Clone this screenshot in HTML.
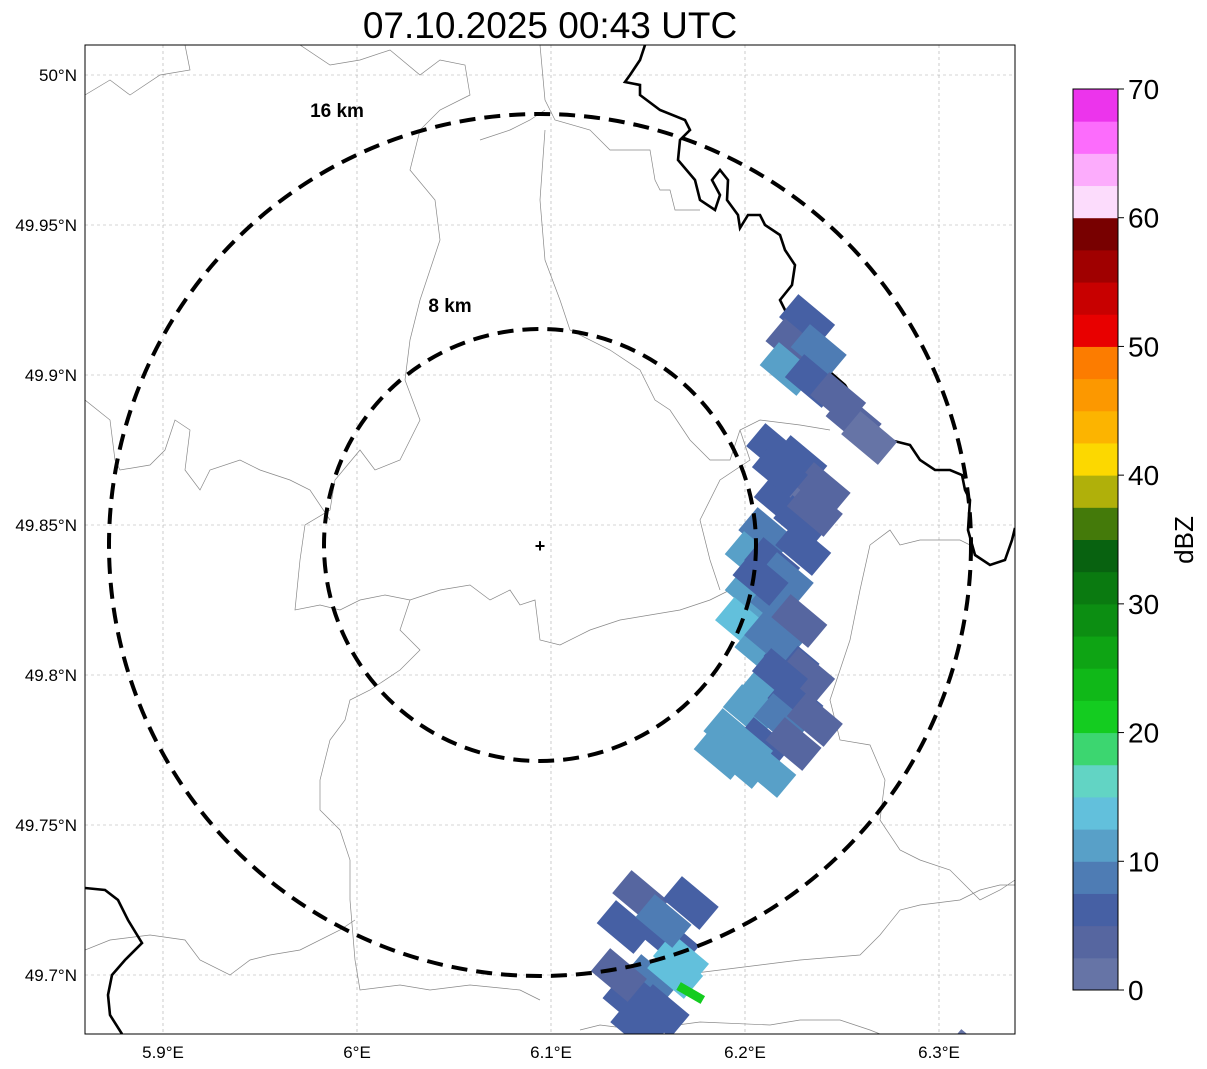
<!DOCTYPE html>
<html><head><meta charset="utf-8"><style>
html,body{margin:0;padding:0;background:#fff;}
svg{display:block;font-family:"Liberation Sans",sans-serif;}
</style></head><body>
<svg id="chart" width="1207" height="1069" xmlns="http://www.w3.org/2000/svg">
<text x="550" y="38" font-size="37" text-anchor="middle">07.10.2025 00:43 UTC</text>
<defs><clipPath id="clip"><rect x="85" y="45" width="930" height="989"/></clipPath></defs>
<g id="grid"></g>
<g id="borders" clip-path="url(#clip)">
<path fill="none" stroke="#888" stroke-width="0.7" d="M85,95 L110,80 L130,95 L160,75 L190,70 L185,45 M300,45 L330,65 L360,60 L390,50 L420,75 L440,60 L465,65 L470,95 L440,110 L420,130 L410,170 L435,200 L440,240 L430,270 L420,300 L410,340 L405,380 L420,420 L400,460 L375,470 L360,450 L335,480 L330,510 L305,525 L300,560 L295,610 L320,605 L340,610 L360,600 L385,595 L410,600 L440,590 L470,585 L490,600 L510,590 L520,605 L535,600 L540,640 L560,645 L590,630 L620,620 L650,615 L680,610 L710,600 L730,590"/>
<path fill="none" stroke="#888" stroke-width="0.7" d="M85,400 L110,420 L115,460 L120,470 L150,465 L165,450 L175,420 L190,430 L185,470 L200,490 L210,470 L240,460 L260,470 L290,480 L310,490 L330,520 M410,600 L400,630 L420,650 L400,670 L370,690 L350,700 L345,720 L330,740 L320,780 L320,810 L340,830 L350,860 L350,900 L355,960 L360,990 L400,985 L430,990 L470,985 L520,990 L540,1000 M85,950 L110,940 L150,935 L185,940 L200,960 L230,975 L250,960 L270,955 L300,950 L340,930 L355,920"/>
<path fill="none" stroke="#888" stroke-width="0.7" d="M540,45 L545,100 L555,120 L590,130 L610,150 L650,150 L655,180 L660,190 L670,190 L675,210 L700,210 M480,140 L510,130 L530,120 L545,110 M545,130 L540,200 L545,260 L560,300 L570,330 L610,350 L640,370 L655,400 L670,410 L690,440 L710,460 L730,460 L740,430 L760,420 L800,425 L830,430 M740,430 L750,460 L720,480 L700,520 L710,560 L720,590 M870,545 L890,530 L900,545 L920,540 L960,540 L970,545 M870,545 L860,590 L850,640 L830,700 L840,740 L870,745 L885,780 L880,820 L900,850 L920,860 L950,870 L980,900 L1000,890 L1015,880 M580,1030 L600,1025 L640,1030 L700,1022 L770,1025 L800,1020 L840,1020 L870,1030 L880,1034 M655,990 L680,975 L720,970 L760,965 L800,960 L860,955 L880,935 L900,910 L920,905 L960,900 L980,890 L1000,885 L1015,885"/>
<path fill="none" stroke="#000" stroke-width="2.6" d="M645,45 L640,60 L630,75 L625,82 L640,85 L640,95 L660,110 L685,120 L690,130 L680,140 L678,160 L695,180 L700,200 L715,210 L720,195 L712,180 L720,170 L728,180 L727,200 L738,215 L740,228 L748,215 L760,215 L765,225 L780,235 L785,250 L795,265 L792,285 L780,300 L790,320 L795,335 L805,345 L815,360 L830,372 L845,385 L860,410 L875,425 L890,440 L910,445 L920,460 L935,470 L950,470 L962,475 L965,490 L970,500 L968,530 L975,555 L990,565 L1005,560 L1012,540 L1015,528"/>
<path fill="none" stroke="#000" stroke-width="2.6" d="M85,888 L105,890 L118,900 L128,920 L142,943 L125,960 L112,975 L108,995 L110,1015 L122,1034"/>
</g>
<g id="echoes" clip-path="url(#clip)"></g>
<g fill="none" stroke="#000" stroke-width="4" stroke-dasharray="16,9">
<circle cx="540" cy="545" r="216"/>
<circle cx="540" cy="545" r="431"/>
</g>
<text x="337" y="117" font-size="19" font-weight="bold" text-anchor="middle">16 km</text>
<text x="450" y="312" font-size="19" font-weight="bold" text-anchor="middle">8 km</text>
<text x="540" y="552" font-size="18" font-weight="bold" text-anchor="middle">+</text>
<rect x="85" y="45" width="930" height="989" fill="none" stroke="#000" stroke-width="1"/>
<g id="axes"></g>
<g id="cbar"></g>
<text x="0" y="0" font-size="26" text-anchor="middle" transform="translate(1193,540) rotate(-90)">dBZ</text>
</svg>
<script>
const lonTicks=[5.9,6.0,6.1,6.2,6.3];
const lonLabels=["5.9°E","6°E","6.1°E","6.2°E","6.3°E"];
const latTicks=[50.0,49.95,49.9,49.85,49.8,49.75,49.7];
const latLabels=["50°N","49.95°N","49.9°N","49.85°N","49.8°N","49.75°N","49.7°N"];
const cbarColors=["#6674a6","#5666a0","#4660a4","#4e7cb4","#58a0c8","#62c0dc","#62d4c4","#3cd670","#14cc20","#10b818","#0ea414","#0c8e12","#0a7a10","#086210","#447a0a","#b0b00a","#fcd800","#fcb400","#fc9800","#fc7c00","#e80000","#c80000","#a00000","#780000","#fcdcfc","#fcacfc","#fc6cfc","#ec34ec"];
const cbarTicks=[0,10,20,30,40,50,60,70];
// echo cells: longitude, latitude, reflectivity (dBZ)
const echoLon=[6.232,6.225,6.238,6.222,6.235,6.248,6.256,6.264,6.215,6.224,6.219,6.232,6.229,6.211,6.204,6.214,6.204,6.217,6.199,6.219,6.209,6.224,6.213,6.226,6.203,6.219,6.193,6.209,6.199,6.225,6.188,6.146,6.172,6.162,6.167,6.151,6.141,6.157,6.164,6.172,
6.228,6.240,6.218,6.230,6.236,6.221,6.208,6.228,6.214,6.232,6.218,6.236,6.200,6.212,6.138,6.158,6.150,6.145,6.135,6.316];
const echoLat=[49.918,49.910,49.908,49.902,49.898,49.892,49.885,49.879,49.875,49.865,49.858,49.861,49.851,49.847,49.839,49.837,49.827,49.823,49.817,49.815,49.808,49.805,49.795,49.791,49.788,49.785,49.780,49.777,49.771,49.777,49.774,49.726,49.724,49.711,49.705,49.698,49.691,49.688,49.701,49.694,
49.871,49.862,49.868,49.842,49.855,49.832,49.832,49.818,49.812,49.800,49.800,49.785,49.776,49.768,49.716,49.718,49.690,49.683,49.700,49.673];
const echoVal=[6,4,8,11,5,3,3,2,6,4,7,2,5,8,11,7,12,9,14,8,10,6,11,5,12,9,11,7,10,3,12,4,7,7,13,9,5,6,14,22,
6,3,5,6,3,9,7,4,8,3,6,4,11,10,5,8,6,5,3,2];
const NS="http://www.w3.org/2000/svg";
const X=lon=>163+(lon-5.9)*1940;
const Y=lat=>75+(50-lat)*3000;
function mk(t,a,p){const e=document.createElementNS(NS,t);for(const k in a)e.setAttribute(k,a[k]);(p||document.getElementById('chart')).appendChild(e);return e;}
const grid=document.getElementById('grid'),axes=document.getElementById('axes');
lonTicks.forEach((v,i)=>{const x=X(v);
 const l=mk('line',{x1:x,x2:x,y1:45,y2:1034,stroke:'#aaa','stroke-width':0.6,'stroke-dasharray':'3,3'},grid);
 
 
 const t=mk('text',{x:x,y:1058,'font-size':17,'text-anchor':'middle'},axes);t.textContent=lonLabels[i];
 
 });
latTicks.forEach((v,i)=>{const y=Y(v);
 const l=mk('line',{x1:85,x2:1015,y1:y,y2:y,stroke:'#aaa','stroke-width':0.6,'stroke-dasharray':'3,3'},grid);
 
 
 const t=mk('text',{x:77,y:y+6,'font-size':17,'text-anchor':'end'},axes);t.textContent=latLabels[i];
 
 });
const cb=document.getElementById('cbar');
const cy=v=>990-v*(901/70);
cbarColors.forEach((c,i)=>{const r=mk('rect',{x:1073,y:cy((i+1)*2.5),width:45,height:cy(i*2.5)-cy((i+1)*2.5)+0.5,fill:c},cb);
 
 });
mk('rect',{x:1073,y:89,width:45,height:901,fill:'none',stroke:'#000','stroke-width':1},cb);
cbarTicks.forEach(v=>{mk('line',{x1:1118,x2:1124,y1:cy(v),y2:cy(v),stroke:'#000'},cb);
 const t=mk('text',{x:1128,y:cy(v)+10,'font-size':28},cb);t.textContent=v;
 
 });
const eg=document.getElementById('echoes');
echoLon.forEach((lon,i)=>{const x=X(lon),y=Y(echoLat[i]);
 const c=cbarColors[Math.min(27,Math.floor(echoVal[i]/2.5))];
 const w=echoVal[i]>=20?28:48,h=echoVal[i]>=20?9:30;
 const r=mk('rect',{x:x-w/2,y:y-h/2,width:w,height:h,fill:c,transform:`rotate(${echoVal[i]>=20?30:40} ${x} ${y})`},eg);
 
 });
</script>
</body></html>
